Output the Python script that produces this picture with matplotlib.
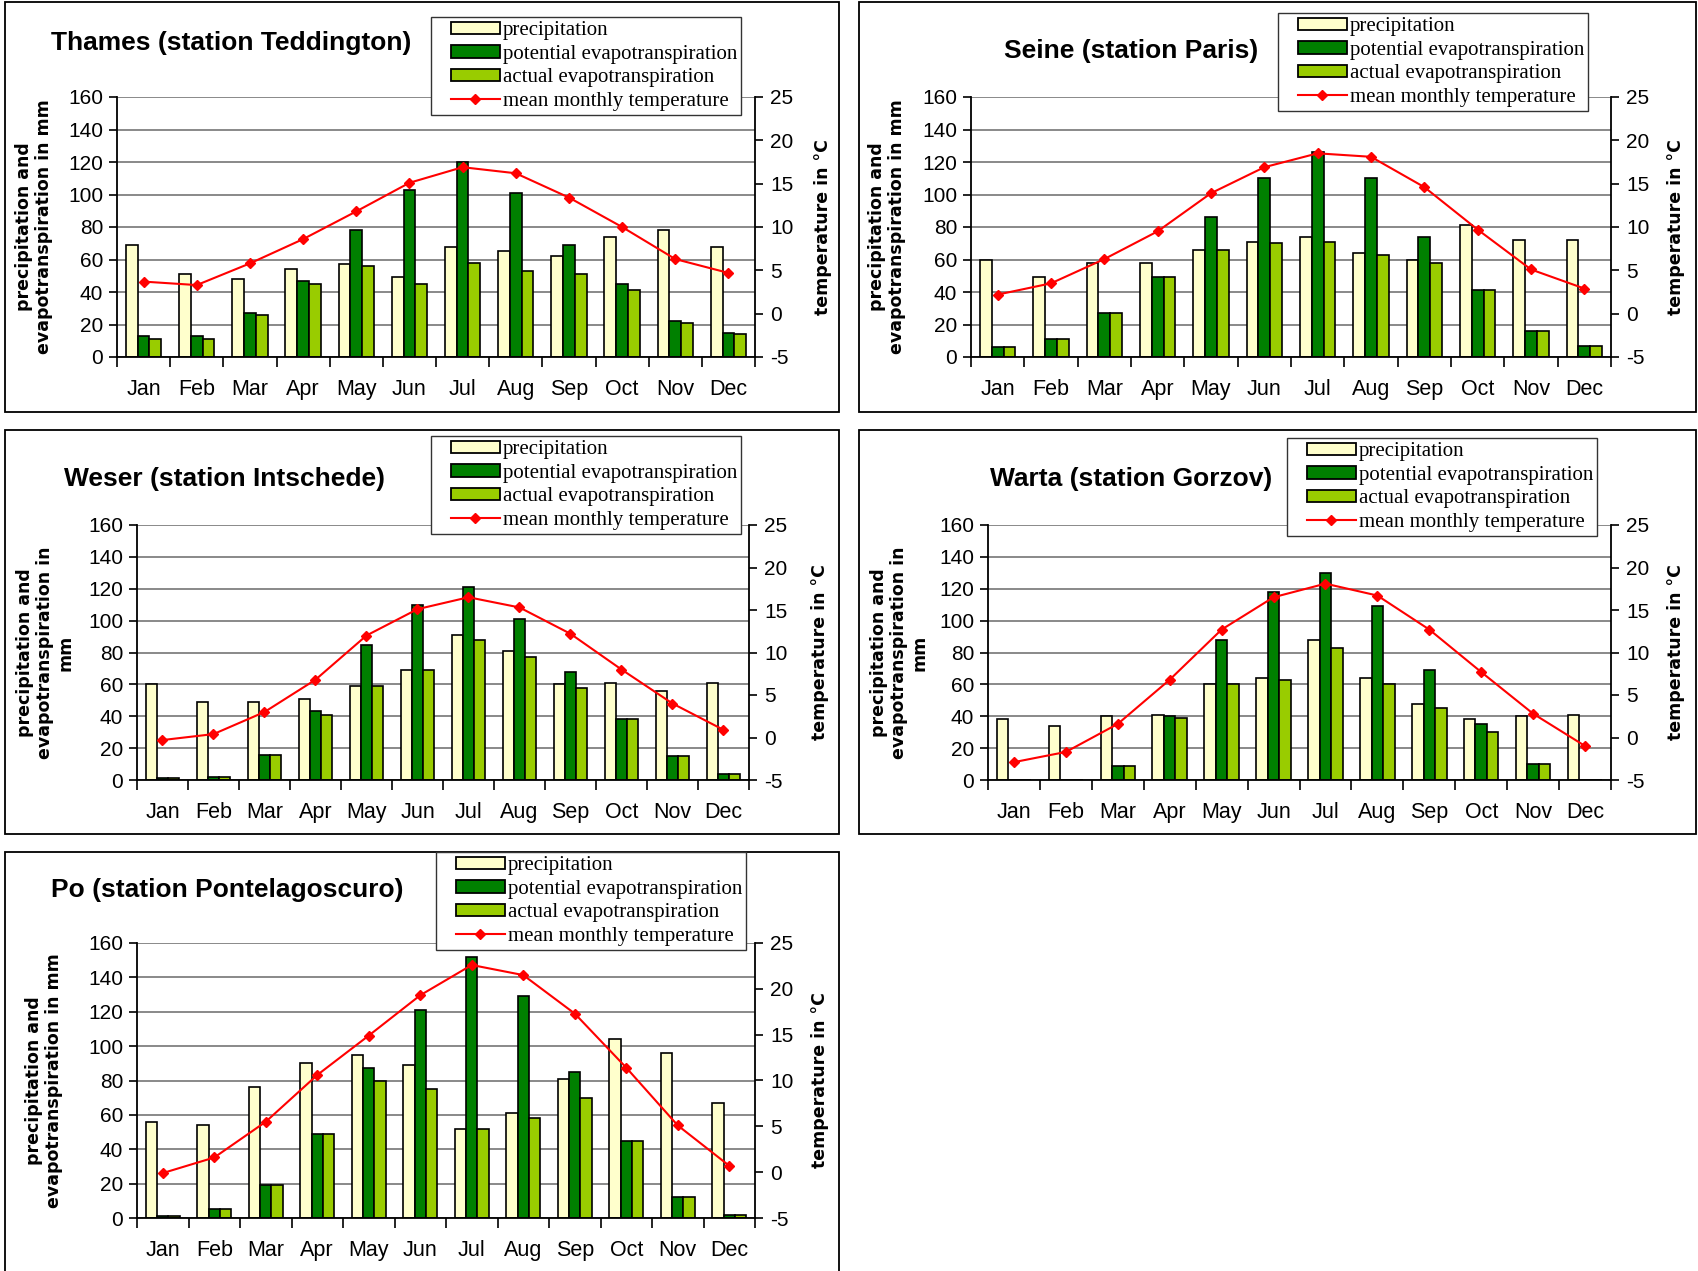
import matplotlib.pyplot as plt
from matplotlib.patches import Patch, Rectangle
from matplotlib.lines import Line2D
from matplotlib.legend_handler import HandlerPatch, HandlerLine2D
import numpy as np

plt.rcParams['font.family'] = 'Liberation Sans'
plt.rcParams['axes.unicode_minus'] = False

months = ['Jan', 'Feb', 'Mar', 'Apr', 'May', 'Jun', 'Jul', 'Aug', 'Sep', 'Oct', 'Nov', 'Dec']

# Thames (Teddington)
thames_prec = [69, 51, 48, 54, 57, 49, 68, 65, 62, 74, 78, 68]
thames_pet = [13, 13, 27, 47, 78, 103, 120, 101, 69, 45, 22, 15]
thames_aet = [11, 11, 26, 45, 56, 45, 58, 53, 51, 41, 21, 14]
thames_temp = [3.7, 3.3, 5.8, 8.6, 11.8, 15.1, 16.9, 16.2, 13.4, 10.0, 6.3, 4.7]

# Seine (Paris)
seine_prec = [60, 49, 58, 58, 66, 71, 74, 64, 60, 81, 72, 72]
seine_pet = [6, 11, 27, 49, 86, 110, 126, 110, 74, 41, 16, 7]
seine_aet = [6, 11, 27, 49, 66, 70, 71, 63, 58, 41, 16, 7]
seine_temp = [2.2, 3.5, 6.3, 9.5, 13.9, 16.9, 18.5, 18.1, 14.6, 9.7, 5.1, 2.9]

# Weser (Intschede)
weser_prec = [60, 49, 49, 51, 59, 69, 91, 81, 60, 61, 56, 61]
weser_pet = [1, 2, 16, 43, 85, 110, 121, 101, 68, 38, 15, 4]
weser_aet = [1, 2, 16, 41, 59, 69, 88, 77, 58, 38, 15, 4]
weser_temp = [-0.3, 0.4, 3.0, 6.8, 12.0, 15.1, 16.5, 15.3, 12.2, 8.0, 4.0, 0.9]

# Warta (Gorzov)
warta_prec = [38, 34, 40, 41, 60, 64, 88, 64, 48, 38, 40, 41]
warta_pet = [0, 0, 9, 40, 88, 118, 130, 109, 69, 35, 10, 0]
warta_aet = [0, 0, 9, 39, 60, 63, 83, 60, 45, 30, 10, 0]
warta_temp = [-2.9, -1.7, 1.6, 6.8, 12.7, 16.5, 18.1, 16.7, 12.7, 7.7, 2.8, -1.0]

# Po (Pontelagoscuro)
po_prec = [56, 54, 76, 90, 95, 89, 52, 61, 81, 104, 96, 67]
po_pet = [1, 5, 19, 49, 87, 121, 152, 129, 85, 45, 12, 2]
po_aet = [1, 5, 19, 49, 80, 75, 52, 58, 70, 45, 12, 2]
po_temp = [-0.1, 1.6, 5.5, 10.6, 14.9, 19.3, 22.6, 21.5, 17.3, 11.4, 5.1, 0.7]

W, H = 1698, 1271
fig = plt.figure(figsize=(W / 100, H / 100), dpi=100)

c_prec = '#FFFFCC'
c_pet = '#008000'
c_aet = '#99CC00'

handles = [Patch(facecolor=c_prec, edgecolor='black', lw=1.3),
           Patch(facecolor=c_pet, edgecolor='black', lw=1.3),
           Patch(facecolor=c_aet, edgecolor='black', lw=1.3),
           Line2D([], [], color='red', lw=1.5, marker='D', markersize=5)]
labels = ['precipitation', 'potential evapotranspiration',
          'actual evapotranspiration', 'mean monthly temperature']
# shift the legend keys a bit to the right, like the original
hmap = {Patch: HandlerPatch(xpad=0.75), Line2D: HandlerLine2D(xpad=0.75)}


def fx(px):
    return px / W


def fy(py):
    return 1 - py / H


def panel(title, prec, pet, aet, temp, frame, axbox, title_xy, leg_xy, ylab, ylab_x, tlab_x):
    x0, y0, x1, y1 = frame
    fig.add_artist(Rectangle((fx(x0), fy(y1)), fx(x1 - x0), (y1 - y0) / H,
                             transform=fig.transFigure, fill=False,
                             edgecolor='black', lw=1.3))
    a0, b0, a1, b1 = axbox
    ax = fig.add_axes([fx(a0), fy(b1), fx(a1 - a0), (b1 - b0) / H])
    x = np.arange(12)
    w = 0.222
    ax.bar(x - w, prec, w, color=c_prec, edgecolor='black', lw=1.2)
    ax.bar(x, pet, w, color=c_pet, edgecolor='black', lw=1.2)
    ax.bar(x + w, aet, w, color=c_aet, edgecolor='black', lw=1.2)
    ax.set_xlim(-0.5, 11.5)
    ax.set_ylim(0, 160)
    ax.set_yticks(range(0, 161, 20))
    ax.set_xticks(x)
    ax.set_xticklabels(months)
    ax.set_xticks(np.arange(-0.5, 12, 1), minor=True)
    ax.tick_params(axis='x', which='major', length=0, pad=16, labelsize=15.5)
    ax.tick_params(axis='x', which='minor', length=7, width=1.2)
    ax.tick_params(axis='y', length=6, width=1.2, pad=4, labelsize=15)
    ax.grid(axis='y', color='#808080', lw=1.3)
    ax.set_axisbelow(True)
    for s in ['top', 'right']:
        ax.spines[s].set_visible(False)
    for s in ['left', 'bottom']:
        ax.spines[s].set_linewidth(1.3)
    ax.set_ylabel(ylab, fontfamily='DejaVu Sans', fontweight='bold', fontsize=12.5,
                  linespacing=1.15, va='center', ha='center')
    ax.yaxis.set_label_coords((ylab_x - a0) / (a1 - a0), 0.5)

    ax2 = ax.twinx()
    ax2.plot(x, temp, color='red', lw=1.5, marker='D', markersize=5)
    ax2.set_ylim(-5, 25)
    ax2.set_yticks(range(-5, 26, 5))
    ax2.tick_params(axis='y', length=6, width=1.2, pad=5, labelsize=15)
    for s in ['top', 'left', 'bottom']:
        ax2.spines[s].set_visible(False)
    ax2.spines['right'].set_linewidth(1.3)
    ax2.set_ylabel('temperature in °C', fontfamily='DejaVu Sans', fontweight='bold',
                   fontsize=12.5, va='center', ha='center')
    ax2.yaxis.set_label_coords((tlab_x - a0) / (a1 - a0), 0.5)

    fig.text(fx(title_xy[0]), fy(title_xy[1]), title, ha='left', va='center',
             fontsize=19, fontweight='bold')

    fig.legend(handles, labels, loc='upper left', handler_map=hmap,
               bbox_to_anchor=(fx(leg_xy[0]), fy(leg_xy[1])),
               prop={'family': 'Liberation Serif', 'size': 15},
               frameon=True, fancybox=False, edgecolor='#333333', framealpha=1,
               borderaxespad=0, borderpad=0.2, labelspacing=0.22,
               handlelength=3.1, handleheight=0.55, handletextpad=0.15)


lab2 = 'precipitation and\nevapotranspiration in mm'
lab3 = 'precipitation and\nevapotranspiration in\nmm'

panel('Thames (station Teddington)', thames_prec, thames_pet, thames_aet, thames_temp,
      (5, 2, 839, 412), (117, 97, 755, 357), (51, 43), (431, 17), lab2, 34, 823)
panel('Seine (station Paris)', seine_prec, seine_pet, seine_aet, seine_temp,
      (859, 2, 1696, 412), (971, 97, 1611, 357), (1004, 51), (1278, 13), lab2, 887, 1676)
panel('Weser (station Intschede)', weser_prec, weser_pet, weser_aet, weser_temp,
      (5, 430, 839, 834), (137, 525, 749, 780), (64, 479), (431, 436), lab3, 45, 820)
panel('Warta (station Gorzov)', warta_prec, warta_pet, warta_aet, warta_temp,
      (859, 430, 1696, 834), (988, 525, 1611, 780), (990, 479), (1287, 438), lab3, 899, 1676)
panel('Po (station Pontelagoscuro)', po_prec, po_pet, po_aet, po_temp,
      (5, 852, 839, 1300), (137, 943, 755, 1218), (51, 890), (436, 852), lab2, 44, 820)

fig.savefig('out.png', dpi=100)
